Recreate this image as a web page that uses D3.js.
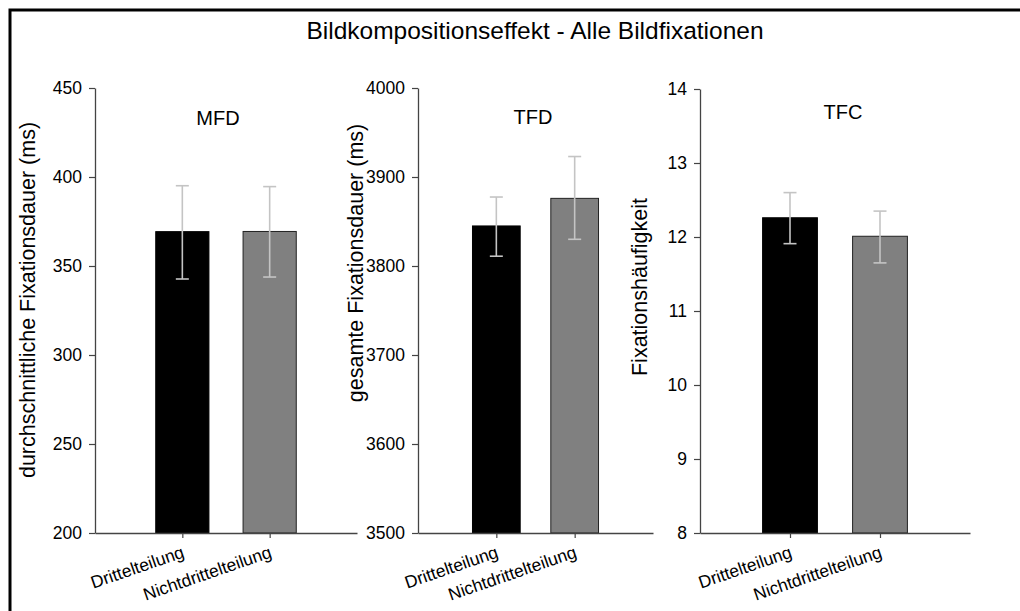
<!DOCTYPE html>
<html>
<head>
<meta charset="utf-8">
<script src="https://cdn.jsdelivr.net/npm/d3@7"></script>
<style>
  body { margin: 0; background: #fff; }
  text { font-family: "Liberation Sans", Arial, sans-serif; fill: #000; }
</style>
</head>
<body>
<svg id="main" width="1020" height="611"></svg>
<script>
// data
const categories = ["Drittelteilung", "Nichtdrittelteilung"];
const chartTitle = "Bildkompositionseffekt - Alle Bildfixationen";
const panelTitles = ["MFD", "TFD", "TFC"];
const yLabels = ["durchschnittliche Fixationsdauer (ms)", "gesamte Fixationsdauer (ms)", "Fixationshäufigkeit"];

const mfdMeans = [369.3, 369.4];
const mfdLow = [342.7, 343.8];
const mfdHigh = [395.1, 394.6];
const mfdTicks = [200, 250, 300, 350, 400, 450];

const tfdMeans = [3845, 3876];
const tfdLow = [3811, 3830];
const tfdHigh = [3877.5, 3923];
const tfdTicks = [3500, 3600, 3700, 3800, 3900, 4000];

const tfcMeans = [12.26, 12.01];
const tfcLow = [11.91, 11.65];
const tfcHigh = [12.6, 12.35];
const tfcTicks = [8, 9, 10, 11, 12, 13, 14];

const barColors = ["#000000", "#808080"];

let svg = d3.select('svg#main');

// frame
svg.append("rect")
    .attr("x", 10).attr("y", 10)
    .attr("width", 1030).attr("height", 640)
    .attr("fill", "none")
    .attr("stroke", "#000")
    .attr("stroke-width", 3);

svg.append("text")
    .attr("x", 535).attr("y", 39)
    .attr("text-anchor", "middle")
    .style("font-size", "24.5px")
    .text(chartTitle);

const panels = [
    {means: mfdMeans, low: mfdLow, high: mfdHigh, ticks: mfdTicks, x0: 95, x1: 357, yTop: 88, titleX: 218, titleY: 125, labX: 35, labY: 300},
    {means: tfdMeans, low: tfdLow, high: tfdHigh, ticks: tfdTicks, x0: 418, x1: 653, yTop: 88, titleX: 533, titleY: 124, labX: 363, labY: 263},
    {means: tfcMeans, low: tfcLow, high: tfcHigh, ticks: tfcTicks, x0: 700, x1: 970, yTop: 89, titleX: 843, titleY: 119, labX: 647, labY: 287}
];
const yBottom = 533;

panels.forEach((p, k) => {
    const g = svg.append("g").attr("class", "panel" + k);

    const x = d3.scalePoint()
        .domain(categories)
        .range([p.x0, p.x1])
        .padding(1);
    const y = d3.scaleLinear()
        .domain(d3.extent(p.ticks))
        .range([yBottom, p.yTop]);
    const bw = (p.x1 - p.x0) * 0.203;

    // bars
    g.selectAll("rect.bar")
        .data(categories)
        .enter()
        .append("rect")
        .attr("class", "bar")
        .attr("x", d => x(d) - bw / 2)
        .attr("y", (d, i) => y(p.means[i]))
        .attr("width", bw)
        .attr("height", (d, i) => yBottom - y(p.means[i]))
        .attr("fill", (d, i) => barColors[i])
        .attr("stroke", (d, i) => i == 0 ? "#000" : "#222")
        .attr("stroke-width", 1);

    // error bars
    const err = g.selectAll("g.err")
        .data(categories)
        .enter()
        .append("g")
        .attr("class", "err")
        .attr("stroke", "#c4c4c4")
        .attr("stroke-width", 1.6);
    err.append("line")
        .attr("x1", d => x(d)).attr("x2", d => x(d))
        .attr("y1", (d, i) => y(p.low[i]))
        .attr("y2", (d, i) => y(p.high[i]));
    err.append("line")
        .attr("x1", d => x(d) - 6.5).attr("x2", d => x(d) + 6.5)
        .attr("y1", (d, i) => y(p.high[i]))
        .attr("y2", (d, i) => y(p.high[i]));
    err.append("line")
        .attr("x1", d => x(d) - 6.5).attr("x2", d => x(d) + 6.5)
        .attr("y1", (d, i) => y(p.low[i]))
        .attr("y2", (d, i) => y(p.low[i]));

    // y axis
    const ya = g.append("g")
        .attr("transform", "translate(" + p.x0 + ",0)")
        .call(d3.axisLeft(y).tickValues(p.ticks).tickSize(6).tickPadding(7).tickSizeOuter(0).tickFormat(d3.format("d")));
    ya.select(".domain").attr("stroke", "#444").attr("stroke-width", 1.3);
    ya.selectAll(".tick line").attr("stroke", "#444").attr("stroke-width", 1.2);
    ya.selectAll("text").style("font-size", "17.5px").attr("fill", "#000").style("font-family", "Liberation Sans, Arial, sans-serif");

    // x axis
    const xa = g.append("g")
        .attr("transform", "translate(0," + yBottom + ")")
        .call(d3.axisBottom(x).tickSize(5).tickSizeOuter(0).tickFormat(""));
    xa.select(".domain").attr("stroke", "#444").attr("stroke-width", 1.3);
    xa.selectAll(".tick line").attr("stroke", "#444").attr("stroke-width", 1.2);

    g.selectAll("text.xlab")
        .data(categories)
        .enter()
        .append("text")
        .attr("class", "xlab")
        .attr("text-anchor", "end")
        .style("font-size", "17.5px")
        .attr("transform", d => "translate(" + (x(d) + 3) + "," + (yBottom + 24) + ") rotate(-19)")
        .text(d => d);

    // panel title
    g.append("text")
        .attr("x", p.titleX).attr("y", p.titleY)
        .attr("text-anchor", "middle")
        .style("font-size", "20px")
        .text(panelTitles[k]);

    // y label
    g.append("text")
        .attr("text-anchor", "middle")
        .attr("transform", "translate(" + p.labX + "," + p.labY + ") rotate(-90)")
        .style("font-size", "21.5px")
        .text(yLabels[k]);
});
</script>
</body>
</html>
